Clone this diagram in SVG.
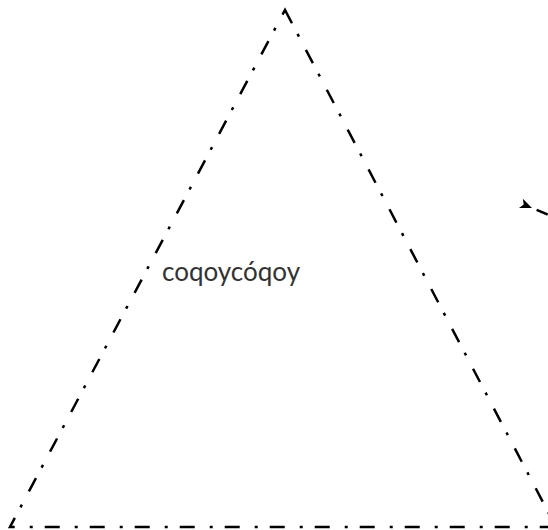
<svg xmlns="http://www.w3.org/2000/svg" width="548" height="530" viewBox="0 0 548 530">
<defs>
<style>
.shape{fill:none;stroke:#000;stroke-width:2.5;stroke-dasharray:15 12 3 15;stroke-linecap:butt}
.lbl{font-family:"Century Gothic","URW Gothic","Lato","Liberation Sans",sans-serif;font-size:26px;fill:#333;text-anchor:middle}
.edge{fill:none;stroke:#000;stroke-width:2.5}
</style>
<marker id="ah" markerWidth="14" markerHeight="12" refX="1" refY="6" orient="auto" markerUnits="userSpaceOnUse">
<path d="M1,6 L13,1 L10,6 L13,11 Z" fill="#000"/>
</marker>
</defs>
<g id="node-triangle">
<path class="shape" d="M285,10 L556,527 L10,527 Z"/>
<text class="lbl" x="231" y="281">coqoycóqoy</text>
</g>
<g id="connectors">
<path class="edge" d="M580,228 L532,208" marker-end="url(#ah)" stroke-dasharray="12 10 3 10"/>
</g>
</svg>
